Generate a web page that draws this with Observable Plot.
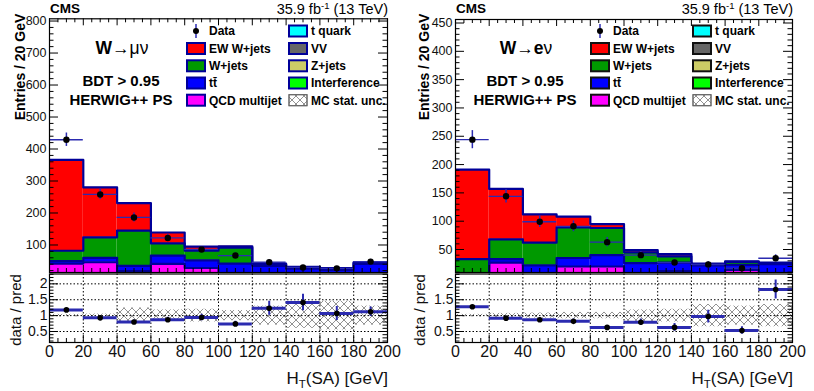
<!DOCTYPE html>
<html><head><meta charset="utf-8">
<script src="https://cdn.jsdelivr.net/npm/d3@7"></script>
<script src="https://cdn.jsdelivr.net/npm/@observablehq/plot@0.6"></script>
<style>
body{margin:0;background:#fff;}
#root{position:relative;width:814px;height:391px;overflow:hidden;font-family:"Liberation Sans",Arial,Helvetica,sans-serif;background:#fff;}
#root svg{position:absolute;top:0;overflow:visible;}
</style></head><body>
<svg width="0" height="0" style="position:absolute">
  <defs>
    <pattern id="xh" patternUnits="userSpaceOnUse" width="8" height="8">
      <path d="M0,0L8,8M8,0L0,8" stroke="#6e6e6e" stroke-width="0.75" fill="none"/>
    </pattern>
  </defs>
</svg>
<div id="root"></div>
<script>
// ---- binning / ticks ----
const binLow = [0, 20, 40, 60, 80, 100, 120, 140, 160, 180];
const binWidth = 20;
const xMajor = [0, 20, 40, 60, 80, 100, 120, 140, 160, 180, 200];
const ratioTicks = [0.5, 1, 1.5, 2];

// ---- W -> mu nu ----
const muQCD   = [42, 46, 18, 41, 28, 8, 3, 2, 2, 3];
const muTT    = [8, 14, 17, 26, 24, 34, 32, 24, 20, 38];
const muWjets = [32, 64, 110, 38, 30, 50, 5, 5, 5, 4];
const muEW    = [284, 156, 86, 34, 13, 4, 2, 1, 1, 1];
const muData    = [429, 258, 186, 122, 86, 67, 46, 30, 27, 48];
const muDataErr = [21, 16, 14, 11, 9, 8, 7, 5.5, 5, 7];
const muRatio    = [1.18, 0.93, 0.80, 0.87, 0.94, 0.74, 1.23, 1.41, 1.07, 1.12];
const muRatioErr = [0.05, 0.06, 0.06, 0.08, 0.1, 0.08, 0.22, 0.26, 0.22, 0.15];
const muMCUnc    = [0.04, 0.05, 0.24, 0.18, 0.2, 0.16, 0.3, 0.4, 0.45, 0.3];
const muYTicks = [100, 200, 300, 400, 500, 600, 700, 800];

// ---- W -> e nu ----
const eQCD   = [3, 27, 5, 20, 20, 3, 12, 3, 14, 2];
const eTT    = [4, 6, 17, 15, 20, 23, 15, 19, 9, 22];
const eWjets = [26, 35, 40, 54, 48, 19, 11, 2, 5, 2];
const eEW    = [158, 89, 50, 19, 7, 4, 4, 1, 1, 1];
const eData    = [244, 144, 99, 91, 63, 40, 27, 23.5, 17, 34.6];
const eDataErr = [16, 12, 10, 9.5, 8, 6.5, 5, 5, 4, 6];
const eRatio    = [1.28, 0.92, 0.87, 0.82, 0.63, 0.79, 0.63, 0.97, 0.53, 1.82];
const eRatioErr = [0.04, 0.05, 0.06, 0.07, 0.06, 0.1, 0.12, 0.2, 0.12, 0.3];
const eMCUnc    = [0.04, 0.07, 0.08, 0.1, 0.1, 0.18, 0.2, 0.35, 0.3, 0.35];
const eYTicks = [50, 100, 150, 200, 250, 300, 350, 400, 450];

// ---- legend ----
const legendCol1 = ["Data", "EW W+jets", "W+jets", "tt\u0304", "QCD multijet"];
const legendCol1Colors = [null, "#ff0000", "#009900", "#0000ff", "#ff00ff"];
const legendCol2 = ["t quark", "VV", "Z+jets", "Interference", "MC stat. unc."];
const legendCol2Colors = ["#00ffff", "#666666", "#cccc66", "#00ff00", "url(#xh)"];

const NAVY = "#000099";
const ERRC = "#2b2bb0";
const FONT = "Liberation Sans, Arial, Helvetica, sans-serif";
const root = document.getElementById("root");

function panel(cfg) {
  const W = 410;
  const mL = cfg.fx1 - cfg.off, mR = cfg.off + W - cfg.fx2;
  const frameW = cfg.fx2 - cfg.fx1;
  const mainTop = cfg.mainTop, mainBot = 272;
  const frameH = mainBot - mainTop;
  const layers = [
    {vals: cfg.qcd, color: "#ff00ff"},
    {vals: cfg.tt, color: "#0000ff"},
    {vals: cfg.wj, color: "#009900"},
    {vals: cfg.ew, color: "#ff0000"}
  ];
  const rects = [], steps = [];
  const cum = binLow.map(() => 0);
  layers.forEach((L, li) => {
    binLow.forEach((x, i) => {
      const y1 = cum[i], y2 = cum[i] + L.vals[i];
      rects.push({x1: x, x2: x + binWidth, y1, y2, fill: L.color});
      cum[i] = y2;
      steps.push({layer: li, x, y: y2});
    });
    steps.push({layer: li, x: binLow[binLow.length - 1] + binWidth, y: cum[cum.length - 1]});
  });
  const pts = binLow.map((x, i) => ({x1: x, x2: x + binWidth, xc: x + binWidth / 2,
    v: cfg.data[i], lo: cfg.data[i] - cfg.dataErr[i], hi: cfg.data[i] + cfg.dataErr[i]}));
  const yMinor = d3.range(Math.ceil(cfg.yDom[0] / cfg.yMinorStep) * cfg.yMinorStep, cfg.yDom[1], cfg.yMinorStep)
    .filter(v => !cfg.yTicks.includes(v));
  const xMinor = d3.range(0, 200, 5).filter(v => v % 20 !== 0);

  const main = Plot.plot({
    width: W, height: 274,
    marginLeft: mL, marginRight: mR, marginTop: mainTop, marginBottom: 274 - mainBot,
    x: {domain: [0, 200], axis: null},
    y: {domain: cfg.yDom, axis: null},
    color: {type: "identity"},
    style: {background: "transparent", fontFamily: FONT, fontSize: "12.5px", color: "#000"},
    marks: [
      Plot.rect(rects, {x1: "x1", x2: "x2", y1: "y1", y2: "y2", fill: "fill", clip: true}),
      Plot.line(steps, {x: "x", y: "y", z: "layer", curve: "step-after", stroke: NAVY, strokeWidth: 2.2, clip: true}),
      Plot.ruleY(pts, {y: "v", x1: "x1", x2: "x2", stroke: ERRC, strokeWidth: 1.3}),
      Plot.ruleX(pts, {x: "xc", y1: "lo", y2: "hi", stroke: ERRC, strokeWidth: 1.5}),
      Plot.dot(pts, {x: "xc", y: "v", r: 3.2, fill: "#000", stroke: "none"}),
      Plot.tickY(cfg.yTicks, {y: d => d, insetRight: frameW - 9, stroke: "#000"}),
      Plot.tickY(cfg.yTicks, {y: d => d, insetLeft: frameW - 9, stroke: "#000"}),
      Plot.tickY(yMinor, {y: d => d, insetRight: frameW - 4.5, stroke: "#000"}),
      Plot.tickY(yMinor, {y: d => d, insetLeft: frameW - 4.5, stroke: "#000"}),
      Plot.tickX(xMajor, {x: d => d, insetTop: frameH - 7, stroke: "#000"}),
      Plot.tickX(xMajor, {x: d => d, insetBottom: frameH - 7, stroke: "#000"}),
      Plot.tickX(xMinor, {x: d => d, insetTop: frameH - 4, stroke: "#000"}),
      Plot.tickX(xMinor, {x: d => d, insetBottom: frameH - 4, stroke: "#000"}),
      Plot.frame({stroke: "#000", strokeWidth: 1.2}),
      Plot.axisY({ticks: cfg.yTicks, tickSize: 0, tickPadding: 3, label: null, tickFormat: d => String(d), fill: "#111"})
    ]
  });

  const rRows = binLow.map((x, i) => ({x1: x, x2: x + binWidth, xc: x + binWidth / 2,
    r: cfg.ratio[i], lo: cfg.ratio[i] - cfg.ratioErr[i], hi: cfg.ratio[i] + cfg.ratioErr[i],
    u1: 1 - cfg.unc[i], u2: 1 + cfg.unc[i]}));
  const rTop = 273.5, rBot = 342;
  const rH = rBot - rTop;
  const rMinor = d3.range(0.2, 2.31, 0.1).map(v => +v.toFixed(1)).filter(v => !ratioTicks.includes(v));
  const gridXv = xMajor.filter(v => v > 0 && v < 200);

  const ratio = Plot.plot({
    width: W, height: 391,
    marginLeft: mL, marginRight: mR, marginTop: rTop, marginBottom: 391 - rBot,
    x: {domain: [0, 200], axis: null},
    y: {domain: [0.154, 2.31], axis: null},
    style: {background: "transparent", fontFamily: FONT, fontSize: "14px", color: "#000"},
    marks: [
      Plot.rect(rRows, {x1: "x1", x2: "x2", y1: "u1", y2: "u2", fill: "url(#xh)", clip: true}),
      Plot.gridX(gridXv, {stroke: "#000", strokeOpacity: 1, strokeDasharray: "1.5,2"}),
      Plot.gridY(ratioTicks, {stroke: "#000", strokeOpacity: 1, strokeDasharray: "1.5,2"}),
      Plot.ruleY(rRows, {y: "r", x1: "x1", x2: "x2", stroke: ERRC, strokeWidth: 3}),
      Plot.ruleX(rRows, {x: "xc", y1: "lo", y2: "hi", stroke: ERRC, strokeWidth: 2, clip: true}),
      Plot.dot(rRows, {x: "xc", y: "r", r: 2.8, fill: "#000", stroke: "none"}),
      Plot.tickY(ratioTicks, {y: d => d, insetRight: frameW - 9, stroke: "#000"}),
      Plot.tickY(ratioTicks, {y: d => d, insetLeft: frameW - 9, stroke: "#000"}),
      Plot.tickY(rMinor, {y: d => d, insetRight: frameW - 4.5, stroke: "#000"}),
      Plot.tickY(rMinor, {y: d => d, insetLeft: frameW - 4.5, stroke: "#000"}),
      Plot.tickX(xMajor, {x: d => d, insetTop: rH - 7, stroke: "#000"}),
      Plot.tickX(xMinor, {x: d => d, insetTop: rH - 4, stroke: "#000"}),
      Plot.frame({stroke: "#000", strokeWidth: 1.2}),
      Plot.axisY({ticks: ratioTicks, tickSize: 0, tickPadding: 2, label: null, tickFormat: d => String(d), fontSize: 14, fill: "#111"}),
      Plot.axisX({ticks: xMajor, tickSize: 0, tickPadding: 3, label: null, tickFormat: d => String(d), fontSize: 16, fill: "#111"})
    ]
  });
  ratio.style.left = cfg.off + "px";
  main.style.left = cfg.off + "px";
  root.appendChild(ratio);
  root.appendChild(main);
}

panel({off: 0, fx1: 49, fx2: 387, mainTop: 18.3, yDom: [14, 807], yTicks: muYTicks, yMinorStep: 20,
  qcd: muQCD, tt: muTT, wj: muWjets, ew: muEW, data: muData, dataErr: muDataErr,
  ratio: muRatio, ratioErr: muRatioErr, unc: muMCUnc});
panel({off: 404, fx1: 455, fx2: 792, mainTop: 19, yDom: [9.4, 456.2], yTicks: eYTicks, yMinorStep: 10,
  qcd: eQCD, tt: eTT, wj: eWjets, ew: eEW, data: eData, dataErr: eDataErr,
  ratio: eRatio, ratioErr: eRatioErr, unc: eMCUnc});

// ---- text overlay & legends ----
const ov = d3.select(root).append("svg").attr("width", 814).attr("height", 391)
  .style("left", "0px").attr("font-family", FONT);

function texts(off, fx1, fx2, lepton, legendBorder) {
  ov.append("text").attr("x", fx1 + 1).attr("y", 13).attr("font-weight", "bold").attr("font-size", 13.5).text("CMS");
  const lumi = ov.append("text").attr("x", fx2 + 1).attr("y", 14).attr("text-anchor", "end").attr("font-size", 14.5);
  lumi.append("tspan").text("35.9 fb");
  lumi.append("tspan").attr("font-size", 9.5).attr("dy", -5.5).text("-1");
  lumi.append("tspan").attr("dy", 5.5).text(" (13 TeV)");

  ov.append("text").attr("transform", `translate(${off + 24.5},67) rotate(-90)`).attr("text-anchor", "middle")
    .attr("font-weight", "bold").attr("font-size", 14).text("Entries / 20 GeV");
  ov.append("text").attr("transform", `translate(${off + 21},310) rotate(-90)`).attr("text-anchor", "middle")
    .attr("font-size", 15).attr("fill", "#111").text("data / pred");

  const xt = ov.append("text").attr("x", fx2 + 1).attr("y", 384).attr("text-anchor", "end").attr("font-size", 17).attr("fill", "#111");
  xt.append("tspan").text("H");
  xt.append("tspan").attr("font-size", 11.5).attr("dy", 4).text("T");
  xt.append("tspan").attr("dy", -4).text("(SA) [GeV]");

  const ch = ov.append("text").attr("x", off + 122).attr("y", 54).attr("text-anchor", "middle").attr("font-size", 17.5);
  ch.append("tspan").attr("font-weight", "bold").text("W");
  ch.append("tspan").text("\u2192");
  if (lepton === "mu") ch.append("tspan").text("\u03bc\u03bd");
  else { ch.append("tspan").attr("font-weight", "bold").text("e"); ch.append("tspan").text("\u03bd"); }
  ov.append("text").attr("x", off + 121).attr("y", 86).attr("text-anchor", "middle").attr("font-weight", "bold").attr("font-size", 15).text("BDT > 0.95");
  ov.append("text").attr("x", off + 121).attr("y", 105).attr("text-anchor", "middle").attr("font-weight", "bold").attr("font-size", 15).text("HERWIG++ PS");

  const rowY = [31, 48.5, 65.8, 83, 100.2];
  const cols = [
    {bx: off + 187, tx: off + 209, labels: legendCol1, colors: legendCol1Colors},
    {bx: off + 289, tx: off + 311, labels: legendCol2, colors: legendCol2Colors}
  ];
  cols.forEach(c => {
    c.labels.forEach((lab, i) => {
      const cy = rowY[i];
      const col = c.colors[i];
      if (col === null) {
        ov.append("line").attr("x1", c.bx + 9).attr("x2", c.bx + 9).attr("y1", cy - 7).attr("y2", cy + 7)
          .attr("stroke", ERRC).attr("stroke-width", 1.5);
        ov.append("circle").attr("cx", c.bx + 9).attr("cy", cy).attr("r", 3).attr("fill", "#000");
      } else if (col.startsWith("url")) {
        ov.append("rect").attr("x", c.bx).attr("y", cy - 5.5).attr("width", 18).attr("height", 11)
          .attr("fill", "#fff").attr("stroke", "#666").attr("stroke-width", 1);
        ov.append("rect").attr("x", c.bx).attr("y", cy - 5.5).attr("width", 18).attr("height", 11)
          .attr("fill", col).attr("stroke", "#666").attr("stroke-width", 1);
      } else {
        ov.append("rect").attr("x", c.bx).attr("y", cy - 5.5).attr("width", 18).attr("height", 11)
          .attr("fill", col).attr("stroke", legendBorder).attr("stroke-width", 2);
      }
      ov.append("text").attr("x", c.tx).attr("y", cy + 4.3).attr("font-weight", "bold").attr("font-size", 12).text(lab);
    });
  });
}
texts(0, 49, 387, "mu", NAVY);
texts(404, 455, 792, "e", "#111");
</script>
</body></html>
